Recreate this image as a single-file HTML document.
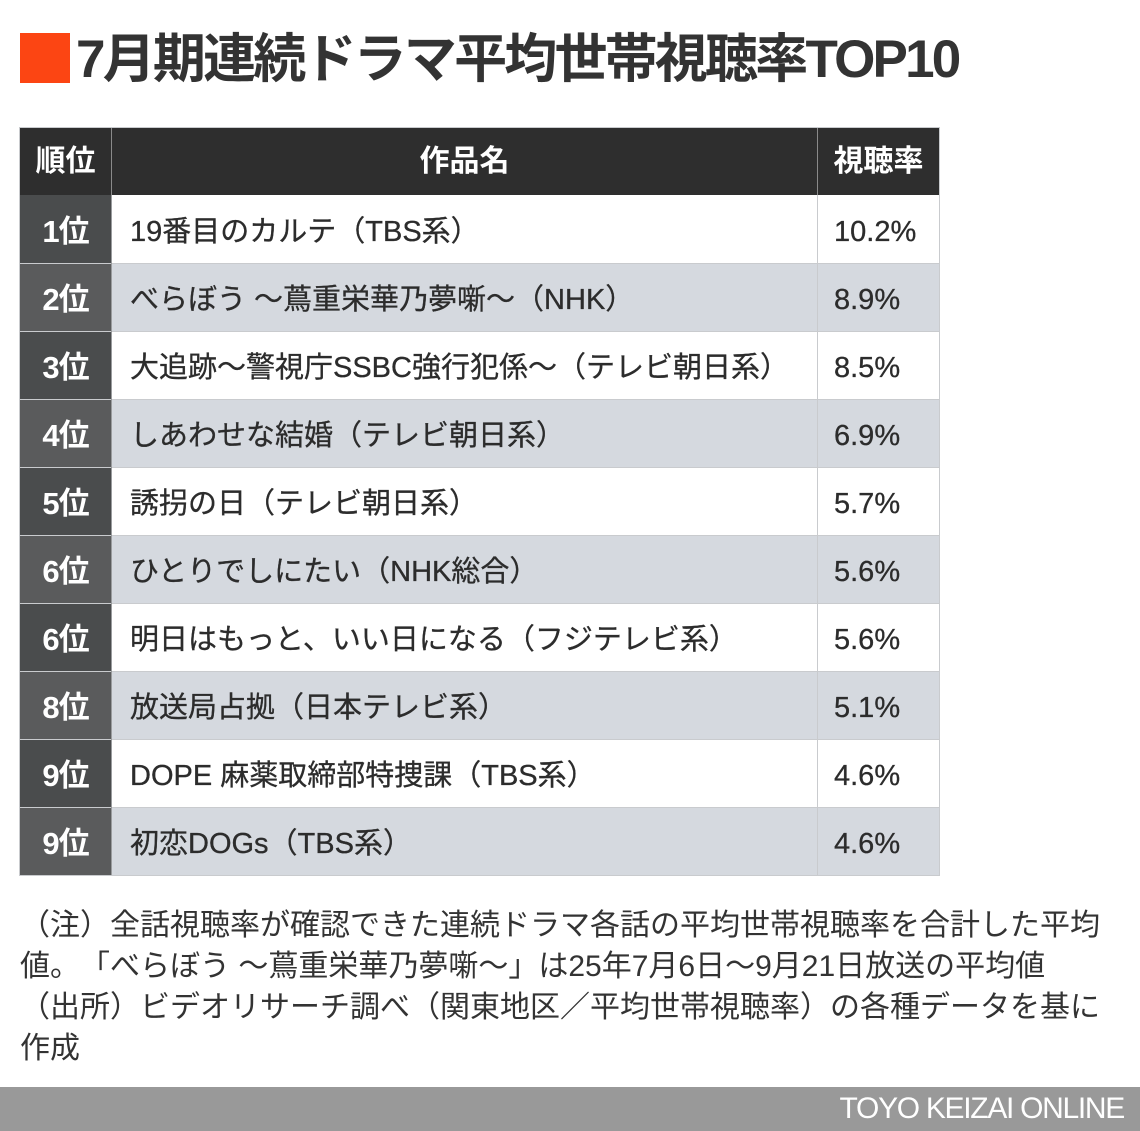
<!DOCTYPE html>
<html lang="ja">
<head>
<meta charset="utf-8">
<style>
  html, body { margin:0; padding:0; }
  body { width:1140px; height:1131px; position:relative; overflow:hidden; background:#ffffff;
         font-family:"Liberation Sans","Noto Sans CJK JP",sans-serif; color:#2c2c2c;
         text-spacing-trim: space-all; }
  .abs { position:absolute; }
  .redsq { left:20px; top:33px; width:50px; height:50px; background:#fc4513; }
  .title { left:76px; top:30px; height:60px; line-height:60px; font-size:53px; font-weight:bold;
           color:#333333; letter-spacing:-2.8px; white-space:nowrap; }
  .hdr { top:128px; height:67px; background:#2e2e2e; color:#fff; font-weight:bold; font-size:30px;
         line-height:67px; text-align:center; white-space:nowrap; }
  .rank { height:68px; color:#fff; font-weight:bold; font-size:31px; text-align:center;
          line-height:62px; padding-top:6px; box-sizing:border-box; letter-spacing:-1px; }
  .r-odd { background:#4a4c4d; }
  .r-even { background:#5a5b5c; }
  .cell { height:68px; font-size:29px; line-height:62px; padding-top:6px; box-sizing:border-box; white-space:nowrap;
          -webkit-text-stroke:0.3px #2c2c2c; }
  .c-odd { background:#ffffff; }
  .c-even { background:#d5d9df; }
  .hline { height:1px; background:#c9cbce; }
  .vline { width:1px; background:#c9cbce; }
  .notes { left:20px; top:905px; font-size:30px; line-height:41px; color:#333; white-space:nowrap; }
  .footer { left:0; top:1087px; width:1140px; height:44px; background:#999999; }
  .footer span { position:absolute; right:16px; top:0; line-height:44px; font-size:30px; color:#fff;
                 letter-spacing:-1.3px; white-space:nowrap; }
</style>
</head>
<body>
<div class="abs redsq"></div>
<div class="abs title">7月期連続ドラマ平均世帯視聴率TOP10</div>

<!-- header -->
<div class="abs hdr" style="left:20px;width:91px;">順位</div>
<div class="abs hdr" style="left:112px;width:705px;">作品名</div>
<div class="abs hdr" style="left:818px;width:121px;">視聴率</div>
<div class="abs" style="left:111px;top:128px;width:1px;height:67px;background:#8a8a8a;"></div>
<div class="abs" style="left:817px;top:128px;width:1px;height:67px;background:#8a8a8a;"></div>

<!-- rows -->
<div class="abs rank r-odd" style="left:20px;top:195px;width:91px;">1位</div>
<div class="abs cell c-odd" style="left:111px;top:195px;width:706px;padding-left:19px;">19番目のカルテ（TBS系）</div>
<div class="abs cell c-odd" style="left:817px;top:195px;width:122px;padding-left:17px;">10.2%</div>

<div class="abs rank r-even" style="left:20px;top:263px;width:91px;">2位</div>
<div class="abs cell c-even" style="left:111px;top:263px;width:706px;padding-left:19px;">べらぼう 〜蔦重栄華乃夢噺〜（NHK）</div>
<div class="abs cell c-even" style="left:817px;top:263px;width:122px;padding-left:17px;">8.9%</div>

<div class="abs rank r-odd" style="left:20px;top:331px;width:91px;">3位</div>
<div class="abs cell c-odd" style="left:111px;top:331px;width:706px;padding-left:19px;">大追跡〜警視庁SSBC強行犯係〜（テレビ朝日系）</div>
<div class="abs cell c-odd" style="left:817px;top:331px;width:122px;padding-left:17px;">8.5%</div>

<div class="abs rank r-even" style="left:20px;top:399px;width:91px;">4位</div>
<div class="abs cell c-even" style="left:111px;top:399px;width:706px;padding-left:19px;">しあわせな結婚（テレビ朝日系）</div>
<div class="abs cell c-even" style="left:817px;top:399px;width:122px;padding-left:17px;">6.9%</div>

<div class="abs rank r-odd" style="left:20px;top:467px;width:91px;">5位</div>
<div class="abs cell c-odd" style="left:111px;top:467px;width:706px;padding-left:19px;">誘拐の日（テレビ朝日系）</div>
<div class="abs cell c-odd" style="left:817px;top:467px;width:122px;padding-left:17px;">5.7%</div>

<div class="abs rank r-even" style="left:20px;top:535px;width:91px;">6位</div>
<div class="abs cell c-even" style="left:111px;top:535px;width:706px;padding-left:19px;">ひとりでしにたい（NHK総合）</div>
<div class="abs cell c-even" style="left:817px;top:535px;width:122px;padding-left:17px;">5.6%</div>

<div class="abs rank r-odd" style="left:20px;top:603px;width:91px;">6位</div>
<div class="abs cell c-odd" style="left:111px;top:603px;width:706px;padding-left:19px;">明日はもっと、いい日になる（フジテレビ系）</div>
<div class="abs cell c-odd" style="left:817px;top:603px;width:122px;padding-left:17px;">5.6%</div>

<div class="abs rank r-even" style="left:20px;top:671px;width:91px;">8位</div>
<div class="abs cell c-even" style="left:111px;top:671px;width:706px;padding-left:19px;">放送局占拠（日本テレビ系）</div>
<div class="abs cell c-even" style="left:817px;top:671px;width:122px;padding-left:17px;">5.1%</div>

<div class="abs rank r-odd" style="left:20px;top:739px;width:91px;">9位</div>
<div class="abs cell c-odd" style="left:111px;top:739px;width:706px;padding-left:19px;">DOPE 麻薬取締部特捜課（TBS系）</div>
<div class="abs cell c-odd" style="left:817px;top:739px;width:122px;padding-left:17px;">4.6%</div>

<div class="abs rank r-even" style="left:20px;top:807px;width:91px;">9位</div>
<div class="abs cell c-even" style="left:111px;top:807px;width:706px;padding-left:19px;">初恋DOGs（TBS系）</div>
<div class="abs cell c-even" style="left:817px;top:807px;width:122px;padding-left:17px;">4.6%</div>

<!-- grid lines -->
<div class="abs hline" style="left:20px;top:127px;width:920px;"></div>
<div class="abs hline" style="left:20px;top:263px;width:920px;"></div>
<div class="abs hline" style="left:20px;top:331px;width:920px;"></div>
<div class="abs hline" style="left:20px;top:399px;width:920px;"></div>
<div class="abs hline" style="left:20px;top:467px;width:920px;"></div>
<div class="abs hline" style="left:20px;top:535px;width:920px;"></div>
<div class="abs hline" style="left:20px;top:603px;width:920px;"></div>
<div class="abs hline" style="left:20px;top:671px;width:920px;"></div>
<div class="abs hline" style="left:20px;top:739px;width:920px;"></div>
<div class="abs hline" style="left:20px;top:807px;width:920px;"></div>
<div class="abs hline" style="left:20px;top:875px;width:920px;"></div>
<div class="abs vline" style="left:111px;top:195px;height:680px;background:#9a9c9e;"></div>
<div class="abs vline" style="left:817px;top:195px;height:680px;"></div>
<div class="abs vline" style="left:939px;top:127px;height:749px;"></div>
<div class="abs vline" style="left:19px;top:127px;height:749px;"></div>

<!-- notes -->
<div class="abs notes">（注）全話視聴率が確認できた連続ドラマ各話の平均世帯視聴率を合計した平均<br>値。「べらぼう 〜蔦重栄華乃夢噺〜」は25年7月6日〜9月21日放送の平均値<br>（出所）ビデオリサーチ調べ（関東地区／平均世帯視聴率）の各種データを基に<br>作成</div>

<div class="abs footer"><span>TOYO KEIZAI ONLINE</span></div>
</body>
</html>
